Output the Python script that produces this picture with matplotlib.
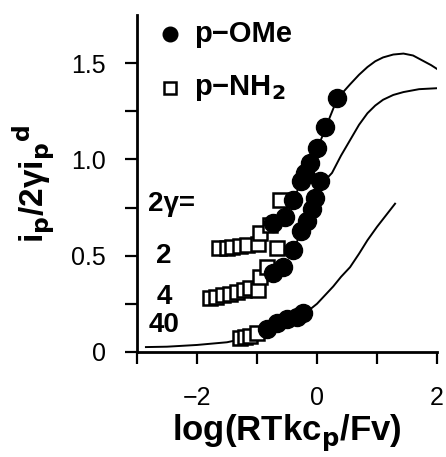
"""
Peak current ratio vs. log(RTkc_p/Fv) for p-OMe and p-NH2, with simulated curves for 2gamma = 2, 4, 40.
"""

import matplotlib.pyplot as plt
import numpy as np

plt.rcParams["font.family"] = ["Liberation Sans", "DejaVu Sans"]

# simulated working curves
curve2_x = [-0.4, -0.2, 0.0, 0.15, 0.33, 0.45, 0.55, 0.7, 0.84, 0.97, 1.1, 1.27, 1.44, 1.6, 1.78, 1.9, 2.0]
curve2_y = [0.79, 0.92, 1.05, 1.17, 1.31, 1.355, 1.39, 1.44, 1.48, 1.51, 1.53, 1.545, 1.55, 1.54, 1.51, 1.49, 1.47]
curve4_x = [-0.4, -0.2, 0.0, 0.1, 0.25, 0.4, 0.55, 0.7, 0.84, 0.97, 1.1, 1.27, 1.44, 1.7, 2.0]
curve4_y = [0.53, 0.66, 0.82, 0.88, 0.93, 1.02, 1.10, 1.18, 1.24, 1.28, 1.31, 1.335, 1.35, 1.365, 1.37]
curve40_x = [-2.85, -2.5, -2.0, -1.5, -1.2, -0.8, -0.5, -0.2, 0.0, 0.15, 0.27, 0.4, 0.55, 0.7, 0.84, 1.0, 1.15, 1.3]
curve40_y = [0.025, 0.027, 0.036, 0.05, 0.07, 0.11, 0.15, 0.2, 0.25, 0.3, 0.34, 0.39, 0.44, 0.51, 0.58, 0.65, 0.71, 0.77]

# p-OMe (filled circles)
ome2_x = [-0.74, -0.54, -0.4, -0.26, -0.2, -0.12, 0.0, 0.13, 0.33]
ome2_y = [0.67, 0.70, 0.79, 0.89, 0.93, 0.98, 1.06, 1.17, 1.32]
ome4_x = [-0.74, -0.57, -0.4, -0.26, -0.17, -0.09, -0.03, 0.05]
ome4_y = [0.41, 0.44, 0.53, 0.63, 0.68, 0.74, 0.80, 0.89]
ome40_x = [-0.84, -0.67, -0.5, -0.34, -0.23]
ome40_y = [0.12, 0.15, 0.17, 0.18, 0.20]

# p-NH2 (open squares)
nh2_2_x = [-1.63, -1.5, -1.41, -1.28, -1.17, -0.99, -0.95, -0.78, -0.62]
nh2_2_y = [0.54, 0.54, 0.545, 0.55, 0.555, 0.56, 0.62, 0.66, 0.79]
nh2_4_x = [-1.79, -1.68, -1.57, -1.45, -1.34, -1.22, -1.12, -0.99, -0.95, -0.84, -0.67]
nh2_4_y = [0.28, 0.285, 0.295, 0.30, 0.31, 0.32, 0.33, 0.32, 0.39, 0.44, 0.54]
nh2_40_x = [-1.29, -1.2, -1.12, -1.0]
nh2_40_y = [0.07, 0.075, 0.08, 0.10]

xtick_vals = [-2, 0, 2]
xtick_labels = ["\u22122", "0", "2"]
ytick_vals = [0, 0.5, 1.0, 1.5]
ytick_labels = ["0", "0.5", "1.0", "1.5"]

fig = plt.figure(figsize=(4.46, 4.57), dpi=100)
ax = fig.add_axes([0.307, 0.23, 0.673, 0.737])

for cx, cy in [(curve2_x, curve2_y), (curve4_x, curve4_y), (curve40_x, curve40_y)]:
    ax.plot(cx, cy, color="black", lw=1.4, zorder=1)

for sx, sy in [(nh2_2_x, nh2_2_y), (nh2_4_x, nh2_4_y), (nh2_40_x, nh2_40_y)]:
    ax.plot(sx, sy, ls="none", marker="s", ms=9.5, mfc="white", mec="black", mew=1.8, zorder=2)

for px, py in [(ome2_x, ome2_y), (ome4_x, ome4_y), (ome40_x, ome40_y)]:
    ax.plot(px, py, ls="none", marker="o", ms=13, color="black", zorder=3)

# legend drawn by hand, like the original
ax.plot([-2.45], [1.65], ls="none", marker="o", ms=10.5, color="black", clip_on=False)
ax.text(-2.05, 1.65, "p\u2212OMe", fontsize=21, fontweight="bold", va="center")
ax.plot([-2.45], [1.37], ls="none", marker="s", ms=8.5, mfc="white", mec="black", mew=1.8)
ax.text(-2.05, 1.37, "p\u2212NH$_\\mathbf{2}$", fontsize=21, fontweight="bold", va="center")

# 2gamma labels
ax.text(-2.82, 0.77, "2\u03b3=", fontsize=20, fontweight="bold", va="center")
ax.text(-2.55, 0.50, "2", fontsize=20, fontweight="bold", va="center", ha="center")
ax.text(-2.55, 0.285, "4", fontsize=20, fontweight="bold", va="center", ha="center")
ax.text(-2.55, 0.14, "40", fontsize=20, fontweight="bold", va="center", ha="center")

ax.set_xlim(-3.0, 2.0)
ax.set_ylim(0, 1.75)
ax.spines["top"].set_visible(False)
ax.spines["right"].set_visible(False)
for s in ["left", "bottom"]:
    ax.spines[s].set_linewidth(2)

ax.set_xticks(xtick_vals)
ax.set_xticklabels(xtick_labels, fontsize=18)
ax.set_xticks([-3, -1, 1], minor=True)
ax.set_yticks(ytick_vals)
ax.set_yticklabels(ytick_labels, fontsize=18)
ax.set_yticks([0.25, 0.75, 1.25], minor=True)
ax.tick_params(which="both", direction="out", length=8.5, width=1.6)
ax.tick_params(axis="x", which="major", pad=16)
ax.tick_params(axis="y", which="major", pad=14)

ax.set_xlabel("log(RTkc$_\\mathbf{p}$/Fv)", fontsize=25, fontweight="bold", labelpad=2)
ax.set_ylabel("i$_\\mathbf{p}$/2\u03b3i$_\\mathbf{p}$$^\\mathbf{d}$", fontsize=24, fontweight="bold", labelpad=10)

plt.savefig("out.png", dpi=100)
plt.close()
